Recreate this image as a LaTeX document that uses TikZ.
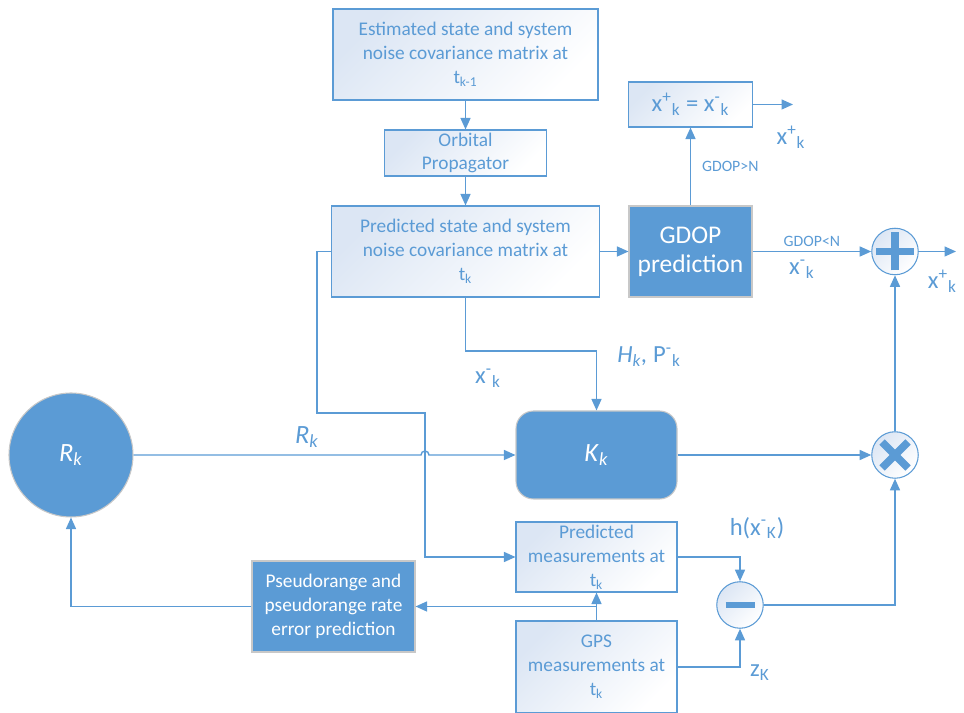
\documentclass[tikz,border=0pt]{standalone}
\usepackage{fontspec}
\setmainfont{Carlito}
\usetikzlibrary{arrows.meta,positioning,shapes.geometric}
\definecolor{office}{HTML}{5B9BD5}
\definecolor{boxtint}{HTML}{DCE6F4}
\definecolor{rim}{HTML}{C8C8C8}
\tikzset{%
	lightbox/.style = {draw=office, line width=0.6pt, rectangle, top color=boxtint, bottom color=white, shading angle=45, text=office, align=center, inner sep=0pt, font=\fontsize{11}{13.6}\selectfont},
	darkbox/.style  = {draw=rim, line width=0.6pt, rectangle, fill=office, text=white, align=center, inner sep=0pt},
	opcircle/.style = {draw=office, line width=0.6pt, circle, minimum size=0.93cm, top color=boxtint, bottom color=white, shading angle=45},
	wire/.style     = {draw=office, line width=0.8pt},
	arrow/.style    = {wire, -{Triangle[length=2.3mm,width=2mm]}},
	sym/.style      = {draw=office, line width=4.4pt},
	lbl/.style      = {text=office, font=\fontsize{14}{16}\selectfont},
	tiny/.style     = {text=office, font=\fontsize{9}{10}\selectfont},
}

\begin{document}
\begin{tikzpicture}
	\useasboundingbox (0,0) rectangle (19.28,14.26);

	% filter blocks
	\node[lightbox, minimum width=5.30cm, minimum height=1.82cm] (est) at (9.31,13.17) {Estimated state and system\\noise covariance matrix at\\t\textsubscript{k-1}};
	\node[lightbox, minimum width=3.24cm, minimum height=0.92cm] (orb) at (9.31,11.20) {Orbital\\Propagator};
	\node[lightbox, minimum width=5.36cm, minimum height=1.82cm] (pred) at (9.31,9.23) {Predicted state and system\\noise covariance matrix at\\t\textsubscript{k}};
	\node[darkbox, minimum width=2.46cm, minimum height=1.82cm, font=\fontsize{14.5}{16.5}\selectfont] (gdop) at (13.81,9.23) {GDOP\\prediction};
	\node[lightbox, minimum width=2.48cm, minimum height=0.90cm, font=\fontsize{14}{16}\selectfont] (xeq) at (13.81,12.17) {x\textsuperscript{+}\textsubscript{k} = x\textsuperscript{-}\textsubscript{k}};
	\node[darkbox, rounded corners=0.35cm, minimum width=3.22cm, minimum height=1.76cm, font=\fontsize{15}{17}\selectfont] (Kk) at (11.93,5.16) {\textit{K}\textsubscript{\textit{k}}};
	\node[darkbox, circle, minimum size=2.48cm, font=\fontsize{15}{17}\selectfont] (Rk) at (1.42,5.16) {\textit{R}\textsubscript{\textit{k}}};
	\node[lightbox, minimum width=3.22cm, minimum height=1.40cm] (predmeas) at (11.93,3.12) {Predicted\\measurements at\\t\textsubscript{k}};
	\node[lightbox, minimum width=3.22cm, minimum height=1.84cm] (gps) at (11.93,0.92) {GPS\\measurements at\\t\textsubscript{k}};
	\node[darkbox, minimum width=3.26cm, minimum height=1.82cm, font=\fontsize{11}{13.6}\selectfont] (pseudo) at (6.67,2.13) {Pseudorange and\\pseudorange rate\\error prediction};

	% summing points
	\node[opcircle] (plus) at (17.90,9.23) {};
	\node[opcircle] (times) at (17.90,5.16) {};
	\node[opcircle] (minus) at (14.80,2.16) {};
	\draw[sym] ([xshift=-0.38cm]plus.center) -- ([xshift=0.38cm]plus.center);
	\draw[sym] ([yshift=-0.38cm]plus.center) -- ([yshift=0.38cm]plus.center);
	\draw[sym] ([shift={(-0.26,-0.26)}]times.center) -- ([shift={(0.26,0.26)}]times.center);
	\draw[sym] ([shift={(-0.26,0.26)}]times.center) -- ([shift={(0.26,-0.26)}]times.center);
	\draw[sym, line width=3pt] ([xshift=-0.29cm]minus.center) -- ([xshift=0.29cm]minus.center);

	% prediction chain
	\draw[arrow] (est) -- (orb);
	\draw[arrow] (orb) -- (pred);
	\draw[arrow] (pred) -- (gdop);
	\draw[arrow] (gdop) -- node[tiny, right=0.1cm] {GDOP>N} (xeq);
	\coordinate (xout) at (15.86,12.17);
	\draw[arrow] (xeq) -- (xout);
	\node[lbl] (xplus1) at (15.82,11.52) {x\textsuperscript{+}\textsubscript{k}};
	\draw[arrow] (gdop) -- node[tiny, above=-1pt] {GDOP<N} node[lbl, below=1pt, xshift=-0.2cm] {x\textsuperscript{-}\textsubscript{k}} (plus);
	\coordinate (pout) at (19.12,9.23);
	\draw[arrow] (plus) -- (pout);
	\node[lbl, anchor=east] (xplus2) at (19.26,8.64) {x\textsuperscript{+}\textsubscript{k}};

	% gain
	\draw[arrow] (pred.south) -- ++(0,-1.07) coordinate (bend) -| (Kk.north);
	\node[lbl] (xminus) at (9.76,6.70) {x\textsuperscript{-}\textsubscript{k}};
	\node[lbl] (hp) at (12.98,7.12) {\textit{H}\textsubscript{\textit{k}}\textit{,} P\textsuperscript{-}\textsubscript{k}};
	\coordinate (hop) at (8.50,5.16);
	\draw[arrow] (Rk.east) -- ([xshift=-0.08cm]hop) arc[start angle=180, end angle=0, radius=0.08cm] -- (Kk.west);
	\node[lbl, font=\fontsize{15}{17}\selectfont] (rlab) at (6.14,5.52) {\textit{R}\textsubscript{\textit{k}}};
	\draw[arrow] (pred.west) -- ++(-0.28,0) |- (8.50,6.00) |- (predmeas.west);
	\draw[arrow] (Kk) -- (times);
	\draw[arrow] (times) -- (plus);

	% measurement update
	\draw[arrow] (predmeas.east) -| (minus.north);
	\draw[arrow] (gps.east) -| (minus.south);
	\node[lbl] (hlab) at (15.14,3.70) {h(x\textsuperscript{-}\textsubscript{K})};
	\node[lbl] (zlab) at (15.20,0.80) {z\textsubscript{K}};
	\draw[arrow] (minus.east) -| (times.south);
	\draw[arrow] (gps.north) -- (predmeas.south);
	\draw[arrow] (gps.north |- pseudo.east) -- (pseudo.east);
	\draw[arrow] (pseudo.west) -| (Rk.south);
\end{tikzpicture}
\end{document}
